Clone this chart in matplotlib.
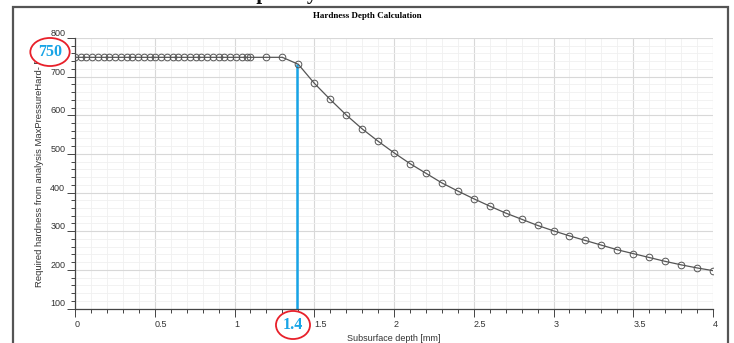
import matplotlib.pyplot as plt
from matplotlib.patches import Rectangle
from matplotlib.ticker import MultipleLocator

# subsurface depth [mm] and required hardness [HV]
depth = [
	0.0, 0.036, 0.072, 0.108, 0.144, 0.18, 0.216, 0.252, 0.288, 0.324,
	0.36, 0.396, 0.432, 0.468, 0.504, 0.54, 0.576, 0.612, 0.648, 0.684,
	0.72, 0.756, 0.792, 0.828, 0.864, 0.9, 0.936, 0.972, 1.008, 1.044,
	1.08, 1.1, 1.2, 1.3, 1.4, 1.5, 1.6, 1.7, 1.8, 1.9,
	2.0, 2.1, 2.2, 2.3, 2.4, 2.5, 2.6, 2.7, 2.8, 2.9,
	3.0, 3.1, 3.2, 3.3, 3.4, 3.5, 3.6, 3.7, 3.8, 3.9, 4.0,
]
hardness = [750] * 34 + [
	732, 683, 641, 601, 565, 533,
	503, 475, 450, 425, 404, 384, 365, 347, 331, 315,
	301, 288, 276, 264, 252, 242, 232, 222, 213, 205, 198,
]
case_depth = 1.39
case_hardness = 733
case_label = "1.4"
max_label = "750"

title = "Hardness Depth Calculation"
xlabel = "Subsurface depth [mm]"
ylabel = "Required hardness from analysis MaxPressureHard- [HV]"

W, H = 734, 343
BLUE = "#18a4e6"

fig = plt.figure(figsize=(W / 100, H / 100), dpi=100)
fig.patch.set_facecolor("white")
ax = fig.add_axes([75 / W, 1 - 308.5 / H, (713 - 75) / W, (308.5 - 38) / H])

# grid
ax.xaxis.set_major_locator(MultipleLocator(0.5))
ax.xaxis.set_minor_locator(MultipleLocator(0.1))
ax.yaxis.set_major_locator(MultipleLocator(100))
ax.yaxis.set_minor_locator(MultipleLocator(20))
ax.grid(which="major", color="#d8d8d8", lw=0.8)
ax.grid(which="minor", color="#f0f0f0", lw=0.6)
ax.set_axisbelow(True)

ax.plot(depth, hardness, color="#555555", lw=0.9, marker="o", ms=4.8,
	mfc="none", mec="#555555", mew=0.7, zorder=3)
ax.vlines(case_depth, 100, case_hardness, color=BLUE, lw=1.8, zorder=2)

ax.set_xlim(0, 4)
ax.set_ylim(100, 800)
for s in ["top", "right"]:
	ax.spines[s].set_visible(False)
for s in ["left", "bottom"]:
	ax.spines[s].set_color("#444444")
	ax.spines[s].set_linewidth(0.9)

ax.tick_params(which="major", length=6, width=0.7, color="#444444",
	labelsize=6.5, labelcolor="#333333")
ax.tick_params(which="minor", length=3, width=0.7, color="#444444")
ax.tick_params(axis="y", pad=1)
ax.tick_params(axis="x", pad=2)
ax.set_xticks([0, 0.5, 1, 1.5, 2, 2.5, 3, 3.5, 4])
ax.set_xticklabels(["0", "0.5", "1", "1.5", "2", "2.5", "3", "3.5", "4"])
for t in ax.get_xticklabels():
	t.set_ha("left")
	t.set_fontfamily("Liberation Sans")
for t in ax.get_yticklabels():
	t.set_va("bottom")
	t.set_fontfamily("Liberation Sans")

ax.set_xlabel(xlabel, fontsize=6.5, color="#333333", family="Liberation Sans",
	labelpad=4)
ax.set_ylabel(ylabel, fontsize=6.8, color="#333333", family="Liberation Sans")
ax.yaxis.set_label_coords(-31 / (713 - 75), 0.525)

fig.text(367 / W, 1 - 16 / H, title, ha="center", va="center",
	fontsize=6.5, fontweight="bold", family="Liberation Serif")

# window frame around the chart
fig.add_artist(Rectangle((12.5 / W, -0.1), (728 - 12.5) / W, 1.1 - 7 / H,
	transform=fig.transFigure, fill=False, ec="#555555", lw=1.6))
# heading of the page, cut off at the top
fig.text(275 / W, 1 + 1.5 / H, "Depth Dy", ha="center", va="baseline",
	fontsize=15, fontweight="bold", family="Liberation Serif", color="#111111")

# callouts
fig.text(50 / W, 1 - 52 / H, max_label, ha="center", va="center",
	fontsize=11.5, fontweight="bold", family="Liberation Serif", color=BLUE,
	bbox=dict(boxstyle="ellipse,pad=0.12", fc="white", ec="#e8202a", lw=1.3))
fig.text(293 / W, 1 - 325 / H, case_label, ha="center", va="center",
	fontsize=11.5, fontweight="bold", family="Liberation Serif", color=BLUE,
	bbox=dict(boxstyle="ellipse,pad=0.12", fc="white", ec="#e8202a", lw=1.3))

fig.savefig("out.png", dpi=100)
